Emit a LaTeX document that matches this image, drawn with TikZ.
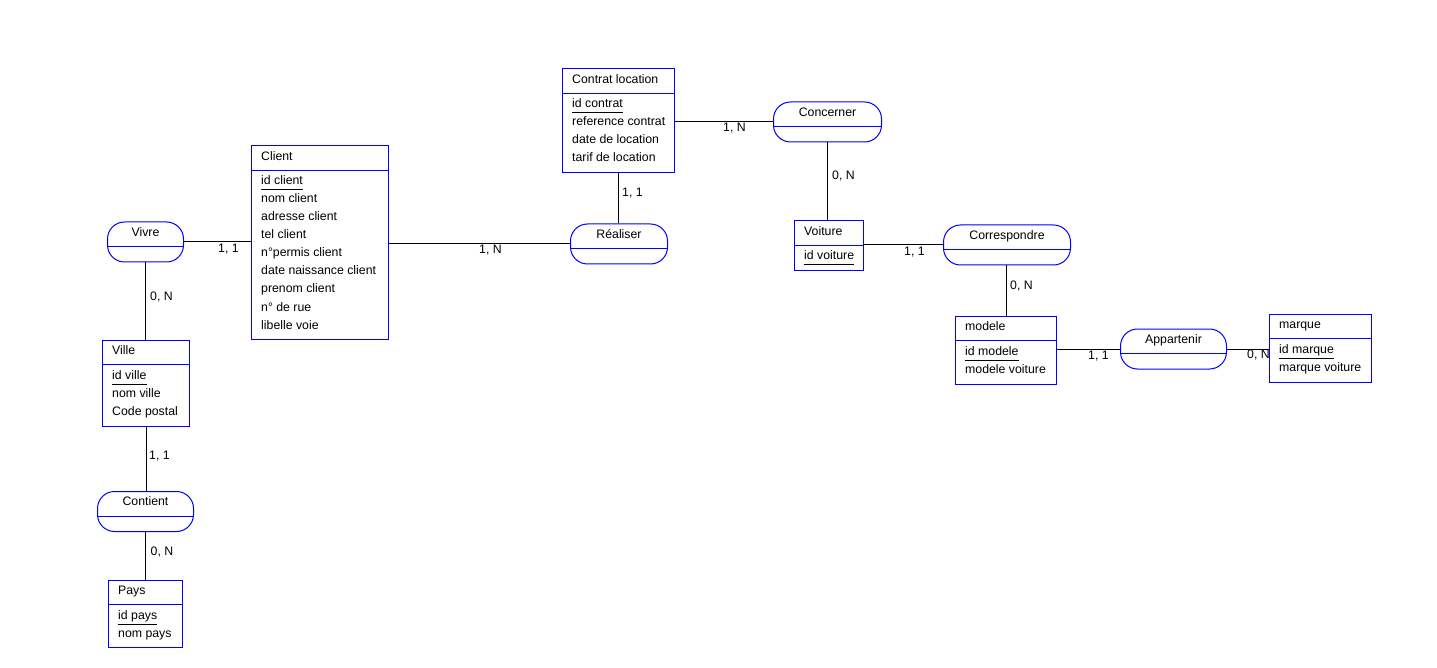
\documentclass[tikz,border=0pt]{standalone}
\usepackage{fontspec}
\setmainfont{Liberation Sans}
\tikzset{
  entbox/.style={draw=blue, line width=1pt, rectangle, inner sep=0pt, anchor=north west},
  relbox/.style={draw=blue, line width=1pt, rectangle, rounded corners=17pt, inner sep=0pt, anchor=north west, minimum height=40pt},
  sepline/.style={draw=blue, line width=1pt},
  txt/.style={inner sep=0pt, anchor=base west, font=\fontsize{12.3}{14}\selectfont},
  lnk/.style={draw=black, line width=1pt},
  keyline/.style={draw=black, line width=1pt},
}
\newcommand{\mkent}[6]{%
  \node[entbox, minimum width=#4pt, minimum height=#5pt] (#1) at (#2,#3) {};
  \draw[sepline] ([yshift=-24.7pt]#1.north west) -- ([yshift=-24.7pt]#1.north east);
  \node[txt] (#1-t) at ([xshift=10pt,yshift=-14.6pt]#1.north west) {#6};
}
\newcommand{\mkattrs}[2]{%
  \foreach \a [count=\i] in {#2} {
    \node[txt] (#1-\i) at ([xshift=10pt,yshift={-(21.5+18*\i)*1pt}]#1.north west) {\a};
  }
  \draw[keyline] ([yshift=-5pt]#1-1.base west) -- ([yshift=-5pt]#1-1.base east);
}
\newcommand{\mkrel}[5]{%
  \node[relbox, minimum width=#4pt] (#1) at (#2,#3) {};
  \draw[sepline] ([yshift=-25.3pt]#1.north west) -- ([yshift=-25.3pt]#1.north east);
  \node[txt, anchor=base] (#1-t) at ([yshift=-14.7pt]#1.north) {#5};
}
\begin{document}
\begin{tikzpicture}[x=1pt, y=-1pt]
\useasboundingbox (0,0) rectangle (1437,668);

% entities
\mkent{client}{251}{145.5}{137}{193.5}{Client}
\mkattrs{client}{id client,nom client,adresse client,tel client,n°permis client,date naissance client,prenom client,n° de rue,libelle voie}
\mkent{contrat}{562}{68.5}{112}{103.5}{Contrat location}
\mkattrs{contrat}{id contrat,reference contrat,date de location,tarif de location}
\mkent{voiture}{794}{220.5}{69}{50}{Voiture}
\mkattrs{voiture}{id voiture}
\mkent{modele}{955}{315.5}{101}{68}{modele}
\mkattrs{modele}{id modele,modele voiture}
\mkent{marque}{1269}{313.5}{102}{68}{marque}
\mkattrs{marque}{id marque,marque voiture}
\mkent{ville}{102}{339.5}{87}{86}{Ville}
\mkattrs{ville}{id ville,nom ville,Code postal}
\mkent{pays}{108}{579.5}{74}{67}{Pays}
\mkattrs{pays}{id pays,nom pays}

% relationships
\mkrel{vivre}{107}{221.5}{76}{Vivre}
\mkrel{contient}{97}{491}{96}{Contient}
\mkrel{realiser}{570}{223.5}{97}{Réaliser}
\mkrel{concerner}{773}{101.5}{108}{Concerner}
\mkrel{corresp}{943}{224.5}{127}{Correspondre}
\mkrel{appart}{1120}{328.5}{106}{Appartenir}

% connectors
\draw[lnk] (vivre.east) -- (client.west |- vivre.east);
\draw[lnk] (vivre.south) -- (ville.north -| vivre.south);
\draw[lnk] (ville.south) -- (contient.north -| ville.south);
\draw[lnk] (contient.south) -- (pays.north -| contient.south);
\draw[lnk] (client.east |- realiser.west) -- (realiser.west);
\draw[lnk] (contrat.south) -- (realiser.north -| contrat.south);
\draw[lnk] (contrat.east |- concerner.west) -- (concerner.west);
\draw[lnk] (concerner.south) -- (voiture.north -| concerner.south);
\draw[lnk] (voiture.east |- corresp.west) -- (corresp.west);
\draw[lnk] (modele.north) -- (corresp.south -| modele.north);
\draw[lnk] (modele.east |- appart.west) -- (appart.west);
\draw[lnk] (appart.east) -- (marque.west |- appart.east);

% cardinalities
\node[txt] (c1) at (218,253) {1, 1};
\node[txt] (c2) at (150,300) {0, N};
\node[txt] (c3) at (149,459) {1, 1};
\node[txt] (c4) at (150.5,555) {0, N};
\node[txt] (c5) at (479,254) {1, N};
\node[txt] (c6) at (622,197) {1, 1};
\node[txt] (c7) at (723,131.5) {1, N};
\node[txt] (c8) at (832,180) {0, N};
\node[txt] (c9) at (904,255.5) {1, 1};
\node[txt] (c10) at (1010,290) {0, N};
\node[txt] (c11) at (1088,359) {1, 1};
\node[txt] (c12) at (1247,358.3) {0, N};
\end{tikzpicture}
\end{document}
